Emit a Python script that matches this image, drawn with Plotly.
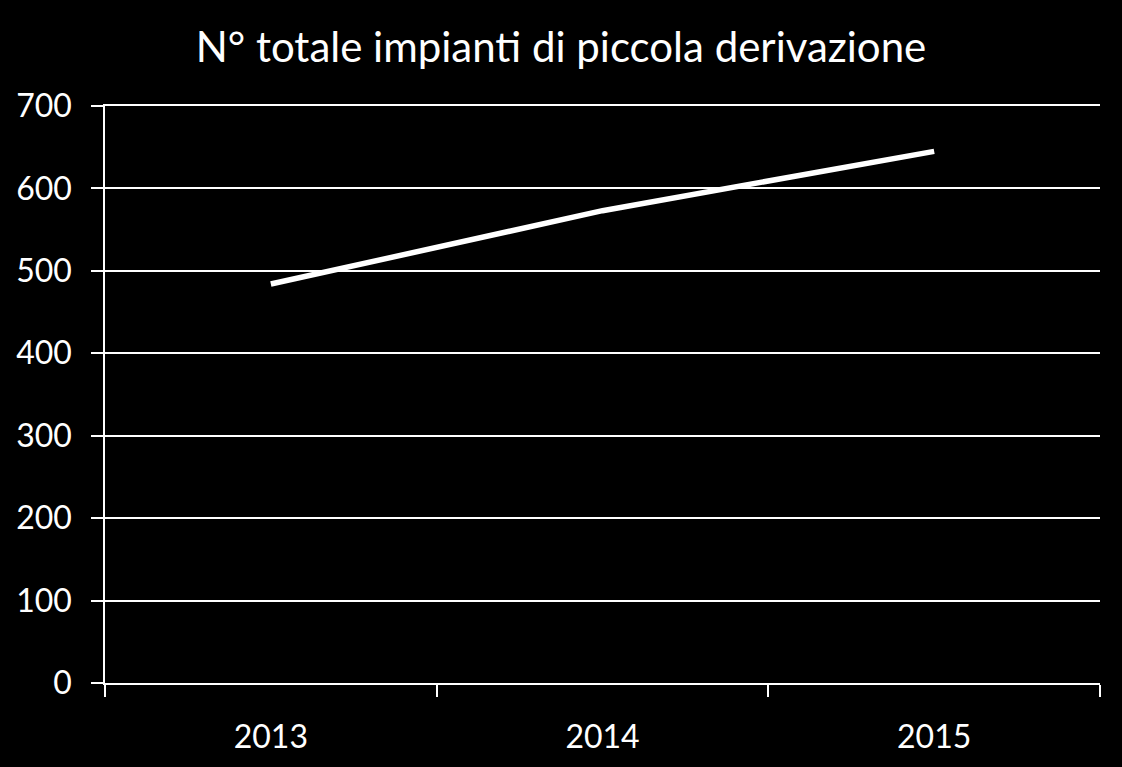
import plotly.graph_objects as go

years = ["2013", "2014", "2015"]
impianti = [484, 573, 645]
y_ticks = [0, 100, 200, 300, 400, 500, 600, 700]

FONT = "Lato"

fig = go.Figure()
fig.add_trace(go.Scatter(
    x=years, y=impianti, mode="lines",
    line=dict(color="white", width=5.5),
    showlegend=False,
))

fig.update_layout(
    width=1122, height=767,
    paper_bgcolor="black", plot_bgcolor="black",
    margin=dict(l=105, r=22, t=106, b=82),
    title=dict(text="N° totale impianti di piccola derivazione",
               x=0.5, xanchor="center", y=1 - 47/767, yanchor="middle",
               font=dict(family=FONT, size=42, color="white")),
    font=dict(family=FONT, color="white"),
)
fig.update_xaxes(
    type="category", range=[-0.5, 2.5],
    showgrid=False, zeroline=False,
    showline=True, mirror=True, linecolor="white", linewidth=1.5,
    ticks="outside", ticklen=12, tickwidth=1.5, tickcolor="white",
    tickson="boundaries",
    tickfont=dict(family=FONT, size=32, color="white"),
    ticklabelstandoff=25,
)
fig.update_yaxes(
    range=[0, 700], tickvals=y_ticks,
    showgrid=True, gridcolor="white", gridwidth=1.5,
    showline=True, linecolor="white", linewidth=1.5,
    zeroline=False,
    ticks="outside", ticklen=12, tickwidth=1.5, tickcolor="white",
    tickfont=dict(family=FONT, size=32, color="white"),
    ticklabelstandoff=13,
)

fig.write_html("out.html")
